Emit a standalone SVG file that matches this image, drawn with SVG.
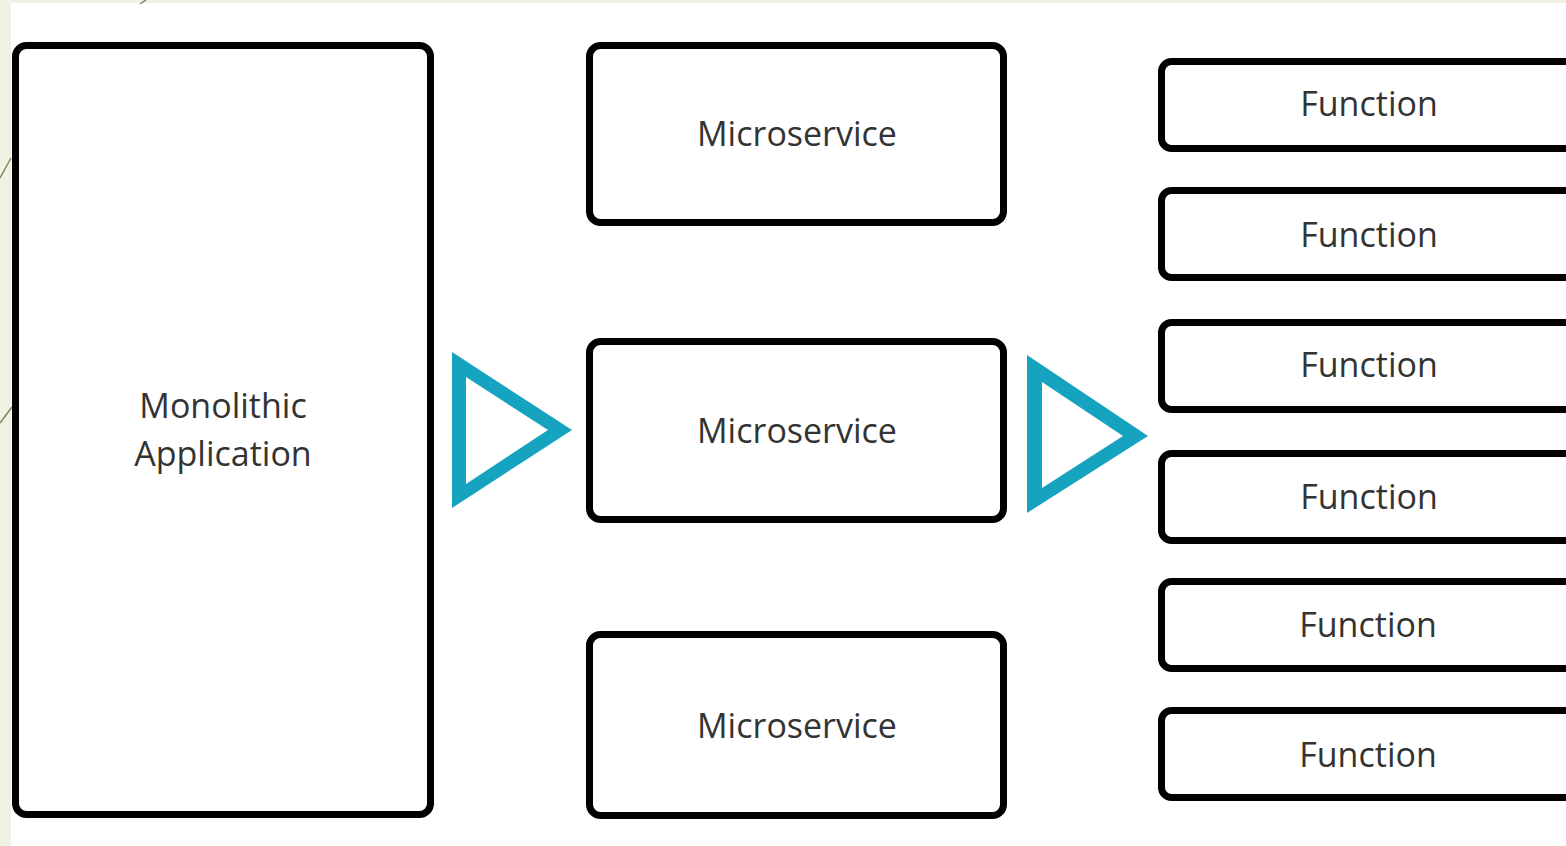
<svg xmlns="http://www.w3.org/2000/svg" width="1566" height="846" viewBox="0 0 1566 846">
<style>
.box{fill:#fff;stroke:#000;stroke-width:7}
.lbl{font-family:"Open Sans","Noto Sans",sans-serif;font-size:34px;fill:#333;text-anchor:middle}
.tri{fill:#16a3bf;fill-rule:evenodd}
</style>
<rect x="0" y="0" width="1566" height="846" fill="#f0f2e3"/>
<rect x="11" y="3" width="1555" height="843" fill="#fff"/>
<g stroke="#8a8060" stroke-width="1.5" fill="none">
<line x1="0" y1="423" x2="12" y2="407"/>
<line x1="0" y1="178" x2="11" y2="158"/>
<line x1="140" y1="4" x2="146" y2="0"/>
</g>
<g id="monolith">
<rect class="box" x="15.5" y="45.5" width="415" height="769" rx="11"/>
<text class="lbl" x="223" y="418" font-size="35">Monolithic</text>
<text class="lbl" x="223" y="466" font-size="35">Application</text>
</g>
<g id="ms1"><rect class="box" x="589.5" y="45.5" width="414" height="177" rx="11"/><text class="lbl" x="797" y="146">Microservice</text></g>
<g id="ms2"><rect class="box" x="589.5" y="341.5" width="414" height="178" rx="11"/><text class="lbl" x="797" y="443">Microservice</text></g>
<g id="ms3"><rect class="box" x="589.5" y="634.5" width="414" height="181" rx="11"/><text class="lbl" x="797" y="738">Microservice</text></g>
<g id="f1"><rect class="box" x="1161.5" y="61.5" width="450" height="87" rx="10"/><text class="lbl" x="1369" y="116">Function</text></g>
<g id="f2"><rect class="box" x="1161.5" y="190.5" width="450" height="87" rx="10"/><text class="lbl" x="1369" y="247">Function</text></g>
<g id="f3"><rect class="box" x="1161.5" y="322.5" width="450" height="87" rx="10"/><text class="lbl" x="1369" y="377">Function</text></g>
<g id="f4"><rect class="box" x="1161.5" y="453.5" width="450" height="87" rx="10"/><text class="lbl" x="1369" y="509">Function</text></g>
<g id="f5"><rect class="box" x="1161.5" y="581.5" width="450" height="87" rx="10"/><text class="lbl" x="1368" y="637">Function</text></g>
<g id="f6"><rect class="box" x="1161.5" y="710.5" width="450" height="87" rx="10"/><text class="lbl" x="1368" y="767">Function</text></g>
<g id="connectors">
<path class="tri" d="M452 352 L572 430 L452 508 Z M466 377 L466 484 L548 430 Z"/>
<path class="tri" d="M1027 355 L1148 436 L1027 513 Z M1042 382 L1042 488 L1123 436 Z"/>
</g>
</svg>
